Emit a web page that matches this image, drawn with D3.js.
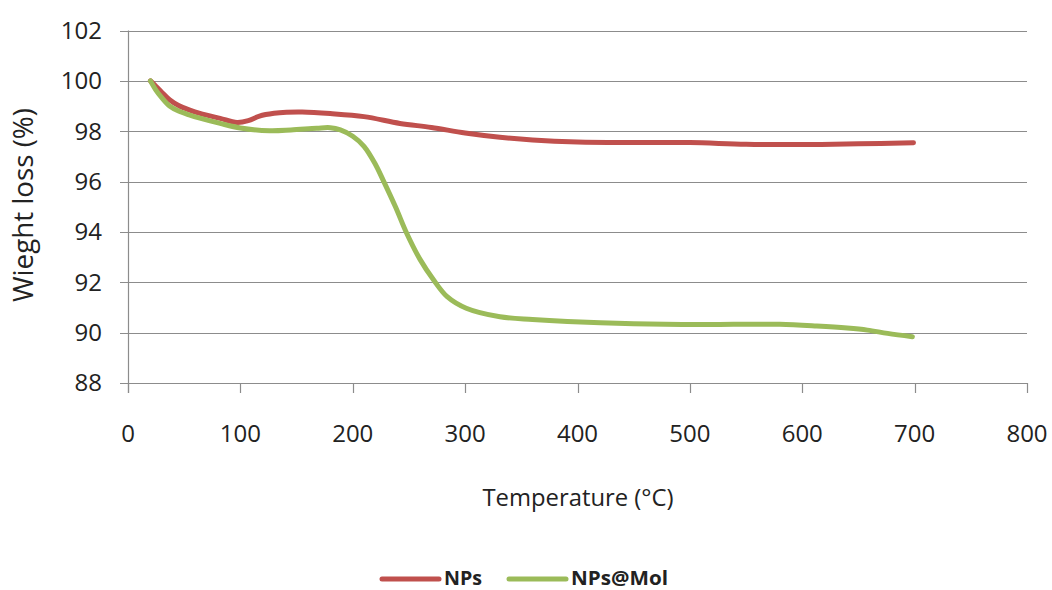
<!doctype html>
<html lang="en">
<head>
<meta charset="utf-8">
<title>TGA</title>
<script src="https://d3js.org/d3.v7.min.js"></script>
<style>
    body { margin: 0; background: #fff; }
    text { font-family: "Open Sans", "Liberation Sans", sans-serif; fill: #222; }
</style>
</head>
<body>
<svg width="1052" height="590"></svg>
<script>
    // temperature (°C) / weight (%)
    var npsT = [20, 25, 30, 37, 45, 55, 64, 82, 97, 107, 117, 130, 141, 155, 180, 210, 242, 270, 300, 331, 360, 400, 450, 500, 550, 600, 650, 699];
    var npsW = [100, 99.78, 99.55, 99.25, 99.02, 98.84, 98.71, 98.51, 98.35, 98.42, 98.6, 98.71, 98.75, 98.76, 98.7, 98.58, 98.31, 98.15, 97.93, 97.76, 97.65, 97.57, 97.55, 97.55, 97.48, 97.47, 97.5, 97.54];

    var molT = [20, 25, 30, 37, 45, 55, 64, 82, 100, 126, 145, 168, 180, 189, 200, 210, 220, 227, 238, 248, 260, 272, 284, 301, 331, 360, 391, 450, 509, 539, 580, 613, 640, 658, 676, 698];
    var molW = [100, 99.62, 99.33, 99.0, 98.8, 98.64, 98.52, 98.31, 98.13, 98.02, 98.05, 98.12, 98.14, 98.05, 97.8, 97.4, 96.7, 96.06, 95.0, 93.95, 92.9, 92.09, 91.43, 90.97, 90.63, 90.52, 90.44, 90.35, 90.32, 90.33, 90.33, 90.26, 90.18, 90.1, 89.97, 89.84];

    var xTicks = [0, 100, 200, 300, 400, 500, 600, 700, 800];
    var yTicks = [88, 90, 92, 94, 96, 98, 100, 102];

    var seriesNames = ["NPs", "NPs@Mol"];
    var seriesColors = ["#c0504d", "#9bbb59"];

    var svg = d3.select("svg");

    var x = d3.scaleLinear().domain([0, 800]).range([128, 1027]);
    var y = d3.scaleLinear().domain([88, 102]).range([383, 30.5]);

    // horizontal gridlines
    svg.append("g")
        .selectAll("line")
        .data(yTicks)
        .enter().append("line")
        .attr("x1", 120)
        .attr("x2", x(800))
        .attr("y1", function (d) { return Math.round(y(d)) + 0.5; })
        .attr("y2", function (d) { return Math.round(y(d)) + 0.5; })
        .attr("stroke", "#8c8c8c")
        .attr("stroke-width", 1.2);

    // y axis line
    svg.append("line")
        .attr("x1", 128.5).attr("x2", 128.5)
        .attr("y1", y(102)).attr("y2", y(88) + 10)
        .attr("stroke", "#8c8c8c")
        .attr("stroke-width", 1.2);

    // x ticks below the axis
    svg.append("g")
        .selectAll("line")
        .data(xTicks)
        .enter().append("line")
        .attr("x1", function (d) { return Math.round(x(d)) + 0.5; })
        .attr("x2", function (d) { return Math.round(x(d)) + 0.5; })
        .attr("y1", y(88))
        .attr("y2", y(88) + 10)
        .attr("stroke", "#8c8c8c")
        .attr("stroke-width", 1.2);

    svg.append("g")
        .selectAll("text")
        .data(yTicks)
        .enter().append("text")
        .attr("x", 102)
        .attr("y", function (d) { return y(d); })
        .attr("dy", "0.35em")
        .attr("text-anchor", "end")
        .style("font-size", "24px")
        .text(function (d) { return d; });

    svg.append("g")
        .selectAll("text")
        .data(xTicks)
        .enter().append("text")
        .attr("x", function (d) { return x(d); })
        .attr("y", 442)
        .attr("text-anchor", "middle")
        .style("font-size", "24px")
        .text(function (d) { return d; });

    svg.append("text")
        .attr("x", 578)
        .attr("y", 506)
        .attr("text-anchor", "middle")
        .style("font-size", "24px")
        .attr("textLength", 191)
        .attr("lengthAdjust", "spacingAndGlyphs")
        .text("Temperature (°C)");

    svg.append("text")
        .attr("transform", "translate(33,205) rotate(-90)")
        .attr("text-anchor", "middle")
        .style("font-size", "27px")
        .attr("textLength", 194)
        .attr("lengthAdjust", "spacingAndGlyphs")
        .text("Wieght loss (%)");

    var line = d3.line()
        .x(function (d) { return x(d[0]); })
        .y(function (d) { return y(d[1]); })
        .curve(d3.curveCatmullRom.alpha(0.5));

    var series = [d3.zip(npsT, npsW), d3.zip(molT, molW)];

    svg.append("g")
        .selectAll("path")
        .data(series)
        .enter().append("path")
        .attr("d", line)
        .attr("fill", "none")
        .attr("stroke", function (d, i) { return seriesColors[i]; })
        .attr("stroke-width", 5)
        .attr("stroke-linecap", "round")
        .attr("stroke-linejoin", "round");

    // legend
    var legendX = [382, 509];
    var legend = svg.selectAll(".legend")
        .data(seriesNames)
        .enter().append("g")
        .attr("class", "legend")
        .attr("transform", function (d, i) { return "translate(" + legendX[i] + ",579)"; });

    legend.append("line")
        .attr("x1", 0).attr("x2", 57)
        .attr("stroke", function (d, i) { return seriesColors[i]; })
        .attr("stroke-width", 5)
        .attr("stroke-linecap", "round");

    legend.append("text")
        .attr("x", 62)
        .attr("y", 6)
        .style("font-size", "20px")
        .style("font-weight", "bold")
        .attr("textLength", function (d, i) { return i === 0 ? 38 : 97; })
        .attr("lengthAdjust", "spacingAndGlyphs")
        .text(function (d) { return d; });
</script>
</body>
</html>
